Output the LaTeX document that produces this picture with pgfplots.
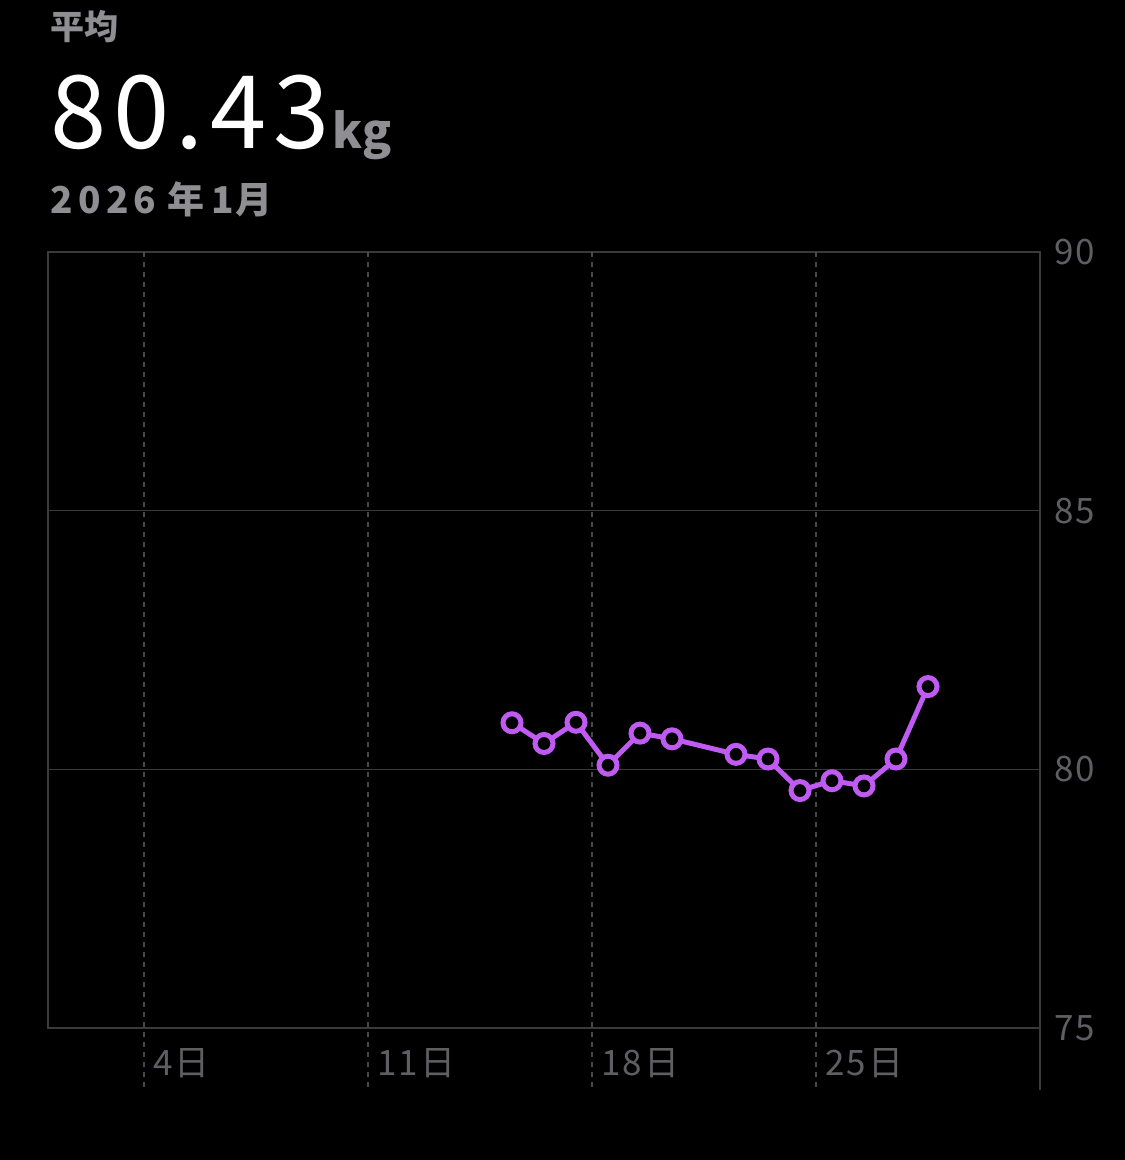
\documentclass[border=0pt]{standalone}
\usepackage{fontspec}
\usepackage{pgfplots}
\pgfplotsset{compat=1.18}
\setmainfont{Noto Sans CJK JP}
\definecolor{gridc}{HTML}{3A3A3C}
\definecolor{dashc}{HTML}{48484A}
\definecolor{lbl}{HTML}{8E8E93}
\definecolor{tickc}{HTML}{5F5F63}
\definecolor{wt}{HTML}{BF5AF2}
\pgfplotstableread{
day w
15.5 80.90
16.5 80.50
17.5 80.91
18.5 80.08
19.5 80.70
20.5 80.59
22.5 80.29
23.5 80.20
24.5 79.59
25.5 79.78
26.5 79.68
27.5 80.20
28.5 81.60
}\weight
\newcommand{\ks}{\kern0.8pt}
\begin{document}
\begin{tikzpicture}
\fill[black] (0,0) rectangle (450pt,-464pt);
\begin{scope}[x=0.4pt,y=-0.4pt]
\node[anchor=base west, inner sep=0, text=lbl, font=\fontsize{13.6}{16}\selectfont\bfseries] at (50,39) {平均};
\node[anchor=base west, inner sep=0, text=white, font=\fontsize{40.5}{48}\selectfont] at (50,148) {8\kern2.6pt0\kern2.6pt.\kern2.6pt4\kern2.6pt3};
\node[anchor=base west, inner sep=0, text=lbl, font=\fontsize{19}{22}\selectfont\bfseries] at (332,148) {kg};
\node[anchor=base west, inner sep=0, text=lbl, font=\fontsize{14.8}{17}\selectfont\bfseries] at (50,213) {2\kern2.1pt0\kern2.1pt2\kern2.1pt6\kern4.6pt{}年\kern2.6pt{}1\kern0.8pt{}月};
\end{scope}
\begin{axis}[
  at={(19.2pt,-411.2pt)}, anchor=south west,
  scale only axis, width=396.8pt, height=310.4pt,
  xmin=1, xmax=32, ymin=75, ymax=90,
  clip=false,
  axis line style={gridc, line width=0.6pt},
  ymajorgrids, grid style={gridc, line width=0.6pt},
  ytick={75,80,85,90}, yticklabels={7\ks{}5,8\ks{}0,8\ks{}5,9\ks{}0},
  yticklabel pos=right,
  major tick length=0pt,
  yticklabel style={anchor=west, inner sep=0, xshift=5.6pt, text=tickc, font=\fontsize{14}{16}\selectfont},
  xtick={4,11,18,25}, xticklabels={4\ks{}日,1\ks{}1\ks{}日,1\ks{}8\ks{}日,2\ks{}5\ks{}日},
  xticklabel style={anchor=base west, inner sep=0, xshift=3.6pt, yshift=-18.8pt, text=tickc, font=\fontsize{14}{16}\selectfont},
]
\pgfplotsinvokeforeach{4,11,18,25}{
  \draw[dashc, line width=0.6pt, dash pattern=on 2pt off 2pt] (axis cs:#1,90) -- (axis cs:#1,73.8);
}
\draw[gridc, line width=0.6pt] (axis cs:32,75) -- (axis cs:32,73.8);
\addplot[wt, line width=2pt, mark=*, mark size=3.6pt, mark options={fill=black, draw=wt, line width=2pt}] table[x=day, y=w] {\weight};
\end{axis}
\end{tikzpicture}
\end{document}
